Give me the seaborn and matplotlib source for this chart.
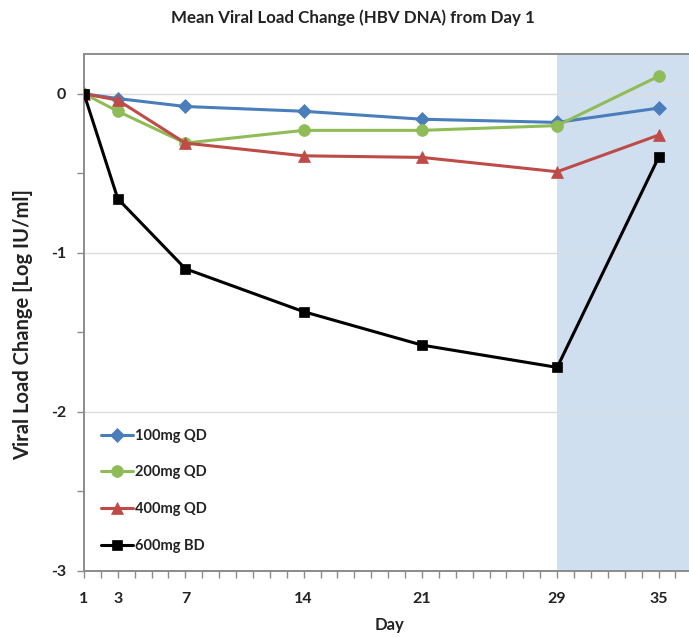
import matplotlib
matplotlib.use("Agg")
import matplotlib.pyplot as plt
import seaborn as sns
import pandas as pd
from matplotlib.ticker import FixedLocator, MultipleLocator

days = [1, 3, 7, 14, 21, 29, 35]
dose_100 = [0.0, -0.03, -0.08, -0.11, -0.16, -0.18, -0.09]
dose_200 = [0.0, -0.11, -0.31, -0.23, -0.23, -0.20, 0.11]
dose_400 = [0.0, -0.04, -0.31, -0.39, -0.40, -0.49, -0.26]
dose_600 = [0.0, -0.66, -1.10, -1.37, -1.58, -1.72, -0.40]
labels = ["100mg QD", "200mg QD", "400mg QD", "600mg BD"]
x_tick_labels = ["1", "3", "7", "14", "21", "29", "35"]
y_ticks = [0, -1, -2, -3]

colors = ["#4a7ebb", "#8fbc56", "#be4b48", "#000000"]
markers = ["D", "o", "^", "s"]
msizes = [7.5, 8.5, 8, 7.5]

sns.set_theme(style="white")
plt.rcParams["font.family"] = ["Lato", "DejaVu Sans"]
plt.rcParams["axes.unicode_minus"] = False

fig = plt.figure(figsize=(6.89, 6.37), dpi=100)
ax = fig.add_axes([84/689, 1-571/637, 1-84/689, (571-54)/637])

series = [dose_100, dose_200, dose_400, dose_600]
for vals, lab, c, m, ms in zip(series, labels, colors, markers, msizes):
    df = pd.DataFrame({"Day": days, "Change": vals})
    sns.lineplot(data=df, x="Day", y="Change", ax=ax, color=c, marker=m,
                 markersize=ms, markeredgecolor=c, markeredgewidth=0.5,
                 linewidth=2.2, label=lab, zorder=3)

ax.axvspan(29, 40, color="#cfdff0", zorder=0.2, linewidth=0)

ax.set_xlim(1, 36.8)
ax.set_ylim(-3, 0.25)
ax.xaxis.set_major_locator(FixedLocator(days))
ax.set_xticklabels(x_tick_labels)
ax.xaxis.set_minor_locator(MultipleLocator(1))
ax.yaxis.set_major_locator(FixedLocator(y_ticks))
ax.set_yticklabels([str(v) for v in y_ticks])
ax.yaxis.set_minor_locator(MultipleLocator(0.5))

ax.set_axisbelow(True)
ax.grid(axis="y", which="major", color="#dcdcdc", linewidth=1.0, zorder=0.5)
ax.grid(axis="x", visible=False)

for s in ["left", "bottom", "top"]:
    ax.spines[s].set_color("#8c8c8c")
    ax.spines[s].set_linewidth(1.4)
ax.spines["right"].set_visible(False)

ax.tick_params(axis="both", which="both", direction="out", color="#8c8c8c",
               bottom=True, left=True)
ax.tick_params(axis="both", which="major", length=5, width=1, labelsize=11.5)
ax.tick_params(axis="x", which="major", pad=10)
ax.tick_params(axis="y", which="major", pad=8)
ax.tick_params(axis="both", which="minor", length=5, width=1)
for t in ax.get_xticklabels() + ax.get_yticklabels():
    t.set_fontweight("bold")
    t.set_color("#222222")

ax.set_xlabel("Day", fontsize=12, fontweight="bold", color="#222222")
ax.xaxis.set_label_coords((389-84)/605, (571-625)/517)
ax.xaxis.label.set_va("center")
ax.set_ylabel("Viral Load Change [Log IU/ml]", fontsize=14.5, fontweight="bold",
              color="#222222")
ax.yaxis.set_label_coords((23-84)/605, (571-325)/517)
ax.yaxis.label.set_va("center")

fig.text(353/689, 1-18/637, "Mean Viral Load Change (HBV DNA) from Day 1",
         ha="center", va="center", fontsize=12.2, fontweight="bold", color="#222222")

leg = ax.legend(loc="upper left", bbox_to_anchor=(95/689, 1-423/637),
                bbox_transform=fig.transFigure, frameon=False, fontsize=10.5,
                labelspacing=1.55, handlelength=2.2, handletextpad=0.15,
                borderaxespad=0)
for t in leg.get_texts():
    t.set_fontweight("bold")
    t.set_color("#222222")

fig.savefig("out.png", dpi=100)
